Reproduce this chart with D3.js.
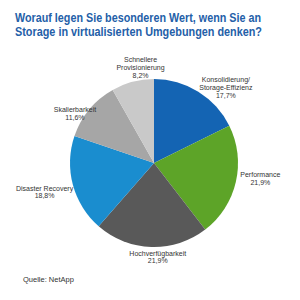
<!DOCTYPE html>
<html>
<head>
<meta charset="utf-8">
<script src="https://cdn.jsdelivr.net/npm/d3@7"></script>
<style>
  body { margin: 0; background: #fff; }
  text { font-family: "Liberation Sans", Arial, sans-serif; }
</style>
</head>
<body>
<div id="chart"></div>
<script>
// data
const categories = ["Konsolidierung/ Storage-Effizienz", "Performance", "Hochverfügbarkeit", "Disaster Recovery", "Skalierbarkeit", "Schnellere Provisionierung"];
const labelLines = [["Konsolidierung/", "Storage-Effizienz"], ["Performance"], ["Hochverfügbarkeit"], ["Disaster Recovery"], ["Skalierbarkeit"], ["Schnellere", "Provisionierung"]];
const values = [17.7, 21.9, 21.9, 18.8, 11.6, 8.2];
const valueLabels = ["17,7%", "21,9%", "21,9%", "18,8%", "11,6%", "8,2%"];
const colors = ["#1464b3", "#5da428", "#595959", "#1a8dcf", "#a6a6a6", "#c9c9c9"];

const titleLines = ["Worauf legen Sie besonderen Wert, wenn Sie an", "Storage in virtualisierten Umgebungen denken?"];
const source = "Quelle: NetApp";

const width = 300, height = 300;
const cx = 154, cy = 163, radius = 84;

const svg = d3.select("#chart").append("svg")
    .attr("width", width)
    .attr("height", height);

// title
svg.append("g").selectAll("text")
    .data(titleLines)
    .join("text")
    .attr("x", 15)
    .attr("y", (d, i) => 22 + i * 14)
    .attr("fill", "#2460a8")
    .attr("font-weight", "bold")
    .attr("font-size", "12px")
    .attr("textLength", (d, i) => i === 0 ? 246 : 247)
    .attr("lengthAdjust", "spacingAndGlyphs")
    .text(d => d);

const pie = d3.pie().sort(null).value(d => d)(values);
const arc = d3.arc().innerRadius(0).outerRadius(radius);
const labelArc = d3.arc().innerRadius(104).outerRadius(104);

const g = svg.append("g").attr("transform", `translate(${cx},${cy})`);

g.selectAll("path")
    .data(pie)
    .join("path")
    .attr("d", arc)
    .attr("fill", (d, i) => colors[i]);

// label positions: outside the slice, nudged per slice like the original
const nudge = [[17, 13], [5, -8], [7, -10], [-9, 2], [1, 17], [13, 5]];

const labels = g.selectAll("g.label")
    .data(pie)
    .join("g")
    .attr("class", "label")
    .attr("transform", (d, i) => {
        const [x, y] = labelArc.centroid(d);
        return `translate(${x + nudge[i][0]},${y + nudge[i][1]})`;
    });

labels.each(function(d, i) {
    const lines = labelLines[i].concat([valueLabels[i]]);
    const lh = 7.8;
    d3.select(this).selectAll("text")
        .data(lines)
        .join("text")
        .attr("text-anchor", "middle")
        .attr("font-size", "7px")
        .attr("fill", "#333")
        .attr("y", (t, j) => (j - (lines.length - 1) / 2) * lh + 2.5)
        .text(t => t);
});

svg.append("text")
    .attr("x", 23)
    .attr("y", 282)
    .attr("font-size", "7.5px")
    .attr("fill", "#333")
    .text(source);
</script>
</body>
</html>
